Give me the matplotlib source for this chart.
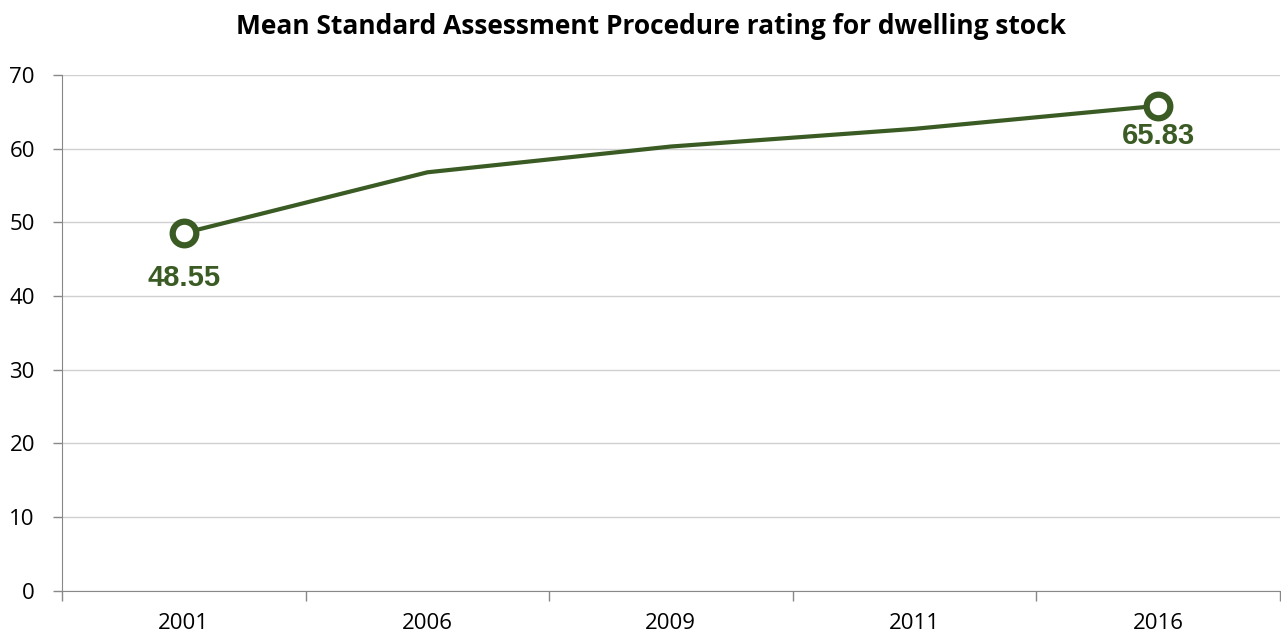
import matplotlib.pyplot as plt

years = ['2001', '2006', '2009', '2011', '2016']
sap_rating = [48.55, 56.8, 60.3, 62.7, 65.83]

green = '#3b5b24'

fig = plt.figure(figsize=(12.81, 6.36), dpi=100)
ax = fig.add_axes([0.0484, 0.071, 0.9506, 0.811])

x = list(range(len(years)))
ax.plot(x, sap_rating, color=green, linewidth=3, zorder=3)

# only the first and last points get a marker and a value label
label_offsets = {0: -22, len(years) - 1: -12}
for i, dy in label_offsets.items():
    ax.plot(x[i], sap_rating[i], 'o', markersize=17, markerfacecolor='white',
            markeredgecolor=green, markeredgewidth=4.5, zorder=4)
    ax.annotate(f'{sap_rating[i]:.2f}', (x[i], sap_rating[i]), xytext=(0, dy),
                textcoords='offset points', ha='center', va='top',
                fontsize=21, fontweight='bold', color=green,
                family='Liberation Sans')

ax.set_xlim(-0.5, len(years) - 0.5)
ax.set_ylim(0, 70)
ax.set_yticks(range(0, 71, 10))
ax.set_xticks(x)
ax.set_xticklabels(years)
ax.set_xticks([i - 0.5 for i in range(len(years) + 1)], minor=True)
ax.tick_params(axis='x', which='major', length=0, pad=16)
ax.tick_params(axis='x', which='minor', length=7, color='#888888', width=1)
ax.tick_params(axis='y', length=6.5, color='#888888', width=1, pad=13)
for lab in ax.get_xticklabels() + ax.get_yticklabels():
    lab.set_family('Open Sans')
    lab.set_fontsize(16)

ax.grid(axis='y', color='#d0d0d0', linewidth=1)
ax.set_axisbelow(True)
for side in ('top', 'right'):
    ax.spines[side].set_visible(False)
ax.spines['left'].set_color('#888888')
ax.spines['bottom'].set_color('#888888')

fig.suptitle('Mean Standard Assessment Procedure rating for dwelling stock',
             x=0.508, y=0.98, fontsize=19, fontweight='bold', family='Open Sans')

fig.savefig('out.png', dpi=100)
